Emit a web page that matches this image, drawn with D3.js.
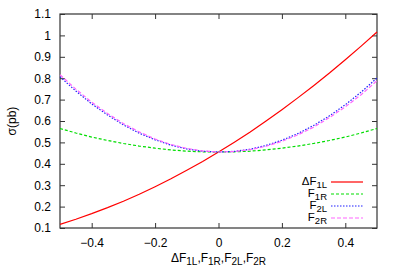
<!DOCTYPE html>
<html>
<head>
<meta charset="UTF-8">
<script src="https://d3js.org/d3.v7.min.js"></script>
<style>
  body { margin:0; background:#fff; }
  text { font-family: "Liberation Sans", Arial, sans-serif; font-size: 12px; fill:#000; }
</style>
</head>
<body>
<div id="chart"></div>
<script>
// values
const xs      = [-0.5,-0.45,-0.4,-0.35,-0.3,-0.25,-0.2,-0.15,-0.1,-0.05,0,0.05,0.1,0.15,0.2,0.25,0.3,0.35,0.4,0.45,0.5];
const dF1L    = [0.117,0.141,0.167,0.195,0.225,0.258,0.293,0.330,0.370,0.411,0.455,0.501,0.549,0.600,0.653,0.708,0.765,0.824,0.886,0.950,1.016];
const F1R     = [0.565,0.544,0.525,0.509,0.495,0.483,0.473,0.465,0.459,0.456,0.455,0.456,0.459,0.465,0.473,0.483,0.495,0.509,0.525,0.544,0.565];
const F2L     = [0.806,0.740,0.680,0.628,0.582,0.543,0.512,0.487,0.469,0.459,0.455,0.458,0.468,0.486,0.510,0.541,0.579,0.624,0.676,0.735,0.801];
const F2R     = [0.816,0.749,0.688,0.635,0.588,0.549,0.516,0.490,0.472,0.460,0.455,0.457,0.466,0.482,0.505,0.535,0.571,0.616,0.666,0.723,0.788];
const xTicks  = [-0.4,-0.2,0,0.2,0.4];
const yTicks  = [0.1,0.2,0.3,0.4,0.5,0.6,0.7,0.8,0.9,1,1.1];

const series = [
  {name:['ΔF','1L'], vals:dF1L, color:'#ff0000', dash:null},
  {name:['F','1R'],  vals:F1R,  color:'#00dd00', dash:'3,2'},
  {name:['F','2L'],  vals:F2L,  color:'#2020ff', dash:'1.5,1.5'},
  {name:['F','2R'],  vals:F2R,  color:'#ff66ff', dash:'4,2'}
];

const W = 400, H = 280;
const m = {left:60, right:23, top:14, bottom:52};

const svg = d3.select('#chart').append('svg').attr('width',W).attr('height',H);

const x = d3.scaleLinear().domain([-0.5,0.5]).range([m.left, W-m.right]);
const y = d3.scaleLinear().domain([0.1,1.1]).range([H-m.bottom, m.top]);

const tl = 5;
// bottom/left axes with inward ticks, mirrored on top/right
svg.append('g').attr('transform',`translate(0,${H-m.bottom})`)
  .call(d3.axisBottom(x).tickValues(xTicks).tickSize(-tl).tickPadding(10).tickFormat(d=>d===0?'0':d3.format('.1f')(d)))
  .call(g=>g.select('.domain').remove());
svg.append('g').attr('transform',`translate(0,${m.top})`)
  .call(d3.axisTop(x).tickValues(xTicks).tickSize(-tl).tickFormat(''))
  .call(g=>g.select('.domain').remove());
svg.append('g').attr('transform',`translate(${m.left},0)`)
  .call(d3.axisLeft(y).tickValues(yTicks).tickSize(-tl).tickPadding(9).tickFormat(d=>d===1?'1':d3.format('.1f')(d)))
  .call(g=>g.select('.domain').remove());
svg.append('g').attr('transform',`translate(${W-m.right},0)`)
  .call(d3.axisRight(y).tickValues(yTicks).tickSize(-tl).tickFormat(''))
  .call(g=>g.select('.domain').remove());
svg.selectAll('.tick text').style('font-family','"Liberation Sans", Arial, sans-serif').style('font-size','12px').attr('fill','#000');
svg.selectAll('.tick line').attr('stroke','#333');

svg.append('rect')
  .attr('x',m.left).attr('y',m.top)
  .attr('width',W-m.left-m.right).attr('height',H-m.top-m.bottom)
  .attr('fill','none').attr('stroke','#333').attr('stroke-width',1.2);

const line = vals => d3.line().x((d,i)=>x(xs[i])).y(d=>y(d))(vals);

series.forEach(s=>{
  svg.append('path')
    .attr('d', line(s.vals))
    .attr('fill','none')
    .attr('stroke', s.color)
    .attr('stroke-width', 1.2)
    .attr('stroke-dasharray', s.dash);
});

// legend
const legY = [182, 194, 206, 218];
series.forEach((s,i)=>{
  const t = svg.append('text').attr('x',327).attr('y',legY[i]+3)
    .attr('text-anchor','end').style('font-size','11.5px');
  t.append('tspan').text(s.name[0]);
  t.append('tspan').attr('dy',2.5).style('font-size','9.5px').text(s.name[1]);
  svg.append('line')
    .attr('x1',331).attr('x2',363).attr('y1',legY[i]).attr('y2',legY[i])
    .attr('stroke',s.color).attr('stroke-width',1.2).attr('stroke-dasharray',s.dash);
});

// x label
const xl = svg.append('text').attr('x',x(0)).attr('y',262).attr('text-anchor','middle');
[['ΔF','1L'],[',F','1R'],[',F','2L'],[',F','2R']].forEach(p=>{
  xl.append('tspan').attr('dy', p[0]==='ΔF'?0:-3).text(p[0]);
  xl.append('tspan').attr('dy',3).style('font-size','10px').text(p[1]);
});

// y label
svg.append('text')
  .attr('transform',`translate(16,${y(0.6)}) rotate(-90)`)
  .attr('text-anchor','middle')
  .text('σ(pb)');
</script>
</body>
</html>
